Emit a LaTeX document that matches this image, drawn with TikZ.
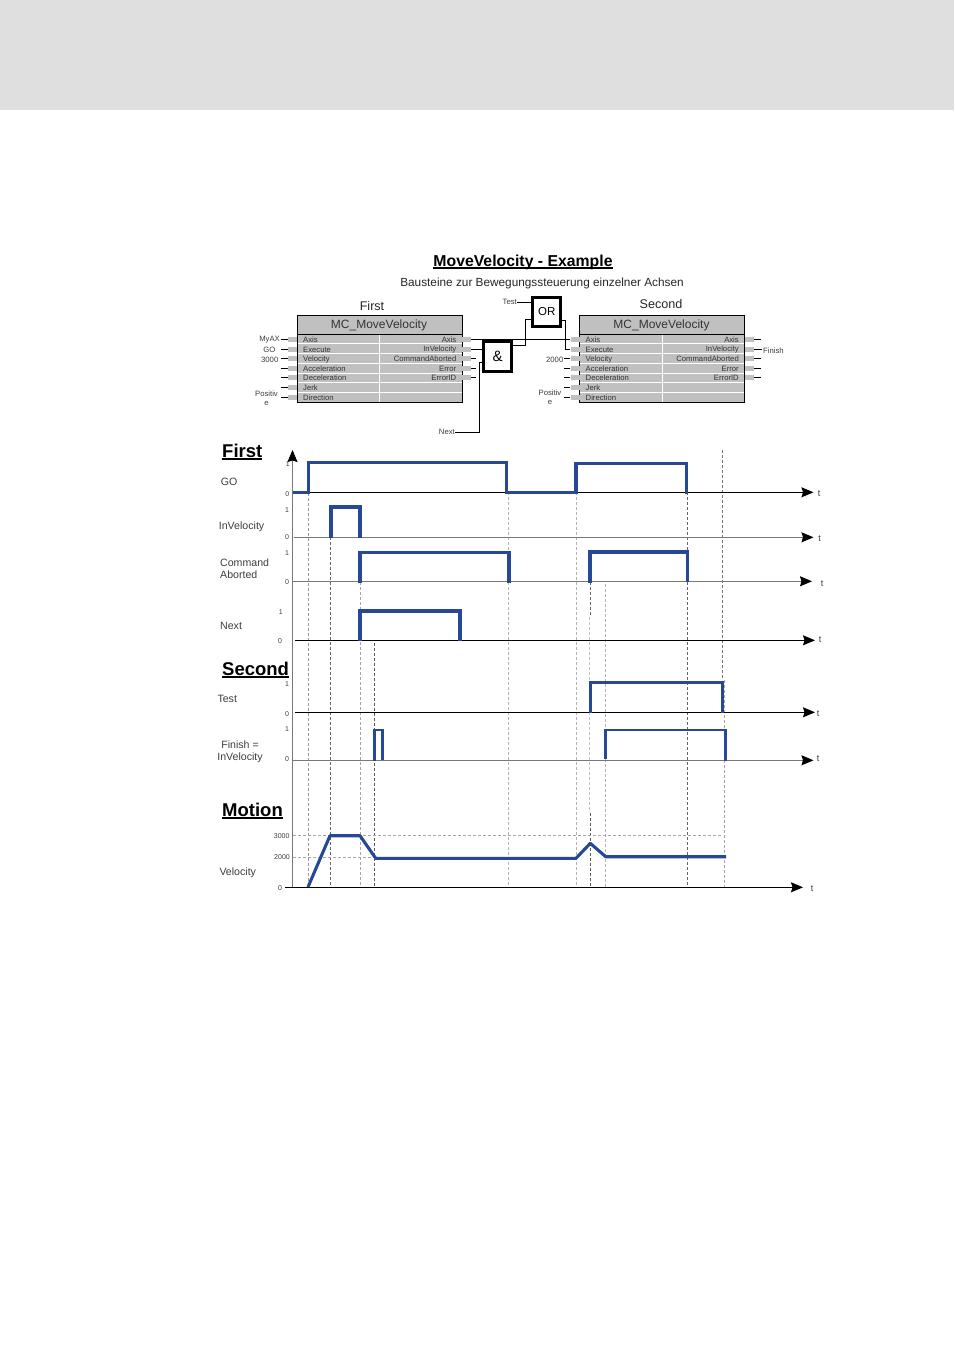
\documentclass[tikz,border=0pt]{standalone}
\usepackage{fontspec}
\setmainfont{Liberation Sans}
\usepackage{tikz}
\usetikzlibrary{arrows.meta, positioning, calc}
\definecolor{headgrey}{RGB}{223, 223, 223}
\definecolor{blockgrey}{RGB}{192, 192, 192}
\definecolor{sigblue}{RGB}{38, 72, 150}
\definecolor{txtgrey}{RGB}{60, 60, 60}
\definecolor{axgrey}{RGB}{120, 120, 120}
\newcommand{\heavyul}[2]{\setbox0\hbox{#2}\rlap{\rule[-2.6pt]{\wd0}{#1}}\box0}

\begin{document}
\begin{tikzpicture}[
  x=1pt, y=-1pt,
  title/.style={font=\fontsize{15.8}{18}\selectfont\bfseries},
  subtitle/.style={font=\fontsize{11.8}{13}\selectfont, text=black!85},
  heading/.style={font=\fontsize{18.5}{21}\selectfont\bfseries, inner sep=0},
  blockname/.style={font=\fontsize{12.6}{14}\selectfont, text=black!85},
  blocktitle/.style={font=\fontsize{12}{14}\selectfont, text=black!80},
  pinlabel/.style={font=\fontsize{7.7}{9}\selectfont, text=black!80, inner sep=0},
  extlabel/.style={font=\fontsize{7.7}{9}\selectfont, text=txtgrey, inner sep=0},
  pin/.style={fill=blockgrey, minimum width=9pt, minimum height=5pt, inner sep=0},
  wire/.style={black, line width=0.7pt},
  gatebox/.style={draw, fill=white, line width=3pt, inner sep=0},
  siglabel/.style={font=\fontsize{10.6}{13}\selectfont, text=txtgrey, inner sep=0, align=left},
  tick/.style={font=\fontsize{7}{8}\selectfont, text=txtgrey, inner sep=0},
  tlabel/.style={font=\fontsize{9}{10}\selectfont, text=txtgrey, inner sep=0},
  taxis/.style={line width=1pt, -{Stealth[length=12pt, width=10pt, inset=1.5pt, black]}},
  signal/.style={sigblue, line width=3.1pt, line join=miter},
  guide/.style={dashed, dash pattern=on 3pt off 2pt, line width=0.6pt},
]
  \useasboundingbox (0, 0) rectangle (954, 1350);
  \fill[headgrey] (0, 0) rectangle (954, 110);

  % Titles
  \node[title] (maintitle) at (523, 262) {\heavyul{1.2pt}{MoveVelocity - Example}};
  \node[subtitle] (subtext) at (542, 283) {Bausteine zur Bewegungssteuerung einzelner Achsen};
  \node[blockname] (firstname) at (372, 306) {First};
  \node[blockname] (secondname) at (661, 304) {Second};

  % Function blocks
  \foreach \pre/\bx in {f/297, s/579.5} {
    \fill[blockgrey] (\bx, 315) rectangle ++(165, 87);
    \foreach \sy in {343.5, 353.7, 363.5, 373.2, 382.7, 392.5}
      \draw[white, line width=0.9pt] (\bx, \sy) -- ++(165, 0);
    \draw[white, line width=0.9pt] (\bx+82.5, 334) -- ++(0, 68);
    \draw[line width=0.9pt] (\bx, 315) rectangle ++(165, 87);
    \draw[line width=0.5pt] (\bx, 334) -- ++(165, 0);
    \node[blocktitle] (\pre title) at (\bx+82, 325) {MC\_MoveVelocity};
    \foreach \i/\py/\ltxt/\rtxt in {1/339/Axis/Axis, 2/349/Execute/InVelocity, 3/358.7/Velocity/CommandAborted,
        4/368/Acceleration/Error, 5/377.5/Deceleration/ErrorID, 6/387.3/Jerk/, 7/397/Direction/} {
      \node[pin] (\pre l\i) at (\bx-4.5, \py) {};
      \node[pinlabel, anchor=west] (\pre lt\i) at (\bx+6, \py+0.5) {\ltxt};
      \ifnum\i<6
        \node[pin] (\pre r\i) at (\bx+169.5, \py) {};
        \node[pinlabel, anchor=east] (\pre rt\i) at (\bx+159.5, \py+0.5) {\rtxt};
      \fi
    }
  }

  % Gates
  \node[gatebox, font=\fontsize{15}{17}\selectfont, minimum width=28pt, minimum height=30pt] (andgate) at (497.7, 356) {\&};
  \node[gatebox, font=\fontsize{11.5}{14}\selectfont, minimum width=28pt, minimum height=29pt] (orgate) at (546.7, 312) {OR};

  % Outer labels, first block
  \node[extlabel, anchor=east] (myax) at (280, 339.5) {MyAX};
  \node[extlabel, anchor=east] (go) at (275.5, 349.5) {GO};
  \node[extlabel, anchor=east] (v3000) at (278.5, 360) {3000};
  \node[extlabel, anchor=center, align=center] (posf) at (266.5, 398) {Positiv\\e};
  \node[extlabel, anchor=east] (nextl) at (455, 432) {Next};
  \node[extlabel, anchor=east] (testl) at (517, 302) {Test};
  \node[extlabel, anchor=east] (v2000) at (563.5, 360) {2000};
  \node[extlabel, anchor=center, align=center] (poss) at (550, 397) {Positiv\\e};
  \node[extlabel, anchor=west] (finishl) at (763, 351) {Finish};

  % Wires
  \draw[wire] (fl1.west) -- ++(-6.5, 0);
  \draw[wire] (fl2.west) -- ++(-7, 0);
  \draw[wire] (fl3.west) -- ++(-7, 0);
  \draw[wire] (fl4.west) -- ++(-7, 0);
  \draw[wire] (fl5.west) -- ++(-7, 0);
  \draw[wire] (fl6.west) -- ++(-7, 0);
  \draw[wire] (fl7.west) -- ++(-7, 0);
  \draw[wire, line width=0.6pt] (fr1.east) -- (sl1.west);
  \draw[wire, line width=1pt] (fr2.east) -- (andgate.west |- fr2);
  \draw[wire] (fr3.east) -- ++(5, 0);
  \draw[wire] (fr4.east) -- ++(5, 0);
  \draw[wire] (fr5.east) -- ++(5, 0);
  \draw[wire] (nextl.east) -- (479.3, 432) |- (andgate.west |- 0, 362);
  \draw[wire] (andgate.east |- 0, 345) -- (525, 345) |- (orgate.west |- 0, 319);
  \draw[wire] (testl.east) -- (orgate.west |- testl);
  \draw[wire] (orgate.east |- 0, 320) -- (565, 320) |- (sl2.west);
  \draw[wire] (sl3.west) -- ++(-6, 0);
  \draw[wire] (sl4.west) -- ++(-6, 0);
  \draw[wire] (sl5.west) -- ++(-6, 0);
  \draw[wire] (sl6.west) -- ++(-6, 0);
  \draw[wire] (sl7.west) -- ++(-6, 0);
  \draw[wire] (sr1.east) -- ++(7, 0);
  \draw[wire] (sr2.east) -- ++(8, 0);
  \draw[wire] (sr3.east) -- ++(7, 0);
  \draw[wire] (sr4.east) -- ++(7, 0);
  \draw[wire] (sr5.east) -- ++(7, 0);

  % Section headings
  \node[heading, anchor=west] (firsthead) at (222, 452) {\heavyul{1.6pt}{First}};
  \node[heading, anchor=west] (secondhead) at (222, 670) {\heavyul{1.6pt}{Second}};
  \node[heading, anchor=west] (motionhead) at (222, 811) {\heavyul{1.6pt}{Motion}};

  % Guide lines
  \foreach \gx/\gtop/\gbot/\gcol in {308/493/887/black!40, 330.5/537/887/black!60, 360/582/887/black!35,
      374.5/643/887/black!65, 508/492/887/black!30, 576.5/492/887/black!30, 590/582/615/black!60,
      589.5/617/812/black!25, 590.3/813/887/black!65, 605.5/584/887/black!30, 687.5/492/887/black!60,
      722.5/450/680/black!55, 724/680/887/black!35}
    \draw[guide, \gcol] (\gx, \gtop) -- (\gx, \gbot);
  \draw[guide, black!35] (293, 835.7) -- (722, 835.7);
  \draw[guide, black!35] (293, 857) -- (375, 857);

  % Axes
  \coordinate (vtop) at (292.5, 450);
  \coordinate (vbot) at (292.5, 887);
  \draw[axgrey, line width=0.9pt, {Stealth[length=12pt, width=10pt, inset=1.5pt, black]}-] (vtop) -- (vbot);

  \node[tlabel] (t1) at (819, 493.5) {t};
  \node[tlabel] (t2) at (819.5, 538.5) {t};
  \node[tlabel] (t3) at (822, 583.5) {t};
  \node[tlabel] (t4) at (820, 639.5) {t};
  \node[tlabel] (t5) at (818, 713.5) {t};
  \node[tlabel] (t6) at (818, 758.5) {t};
  \node[tlabel] (t7) at (812, 888.5) {t};
  \coordinate (a1) at (293, 492.3);
  \coordinate (a2) at (294, 537.3);
  \coordinate (a3) at (293, 581.3);
  \coordinate (a4) at (295, 640.3);
  \coordinate (a5) at (295, 712.3);
  \coordinate (a6) at (293, 760.3);
  \coordinate (a7) at (285, 887.3);
  \draw[taxis] (a1) -- (813.5, 492.3);
  \draw[taxis, axgrey] (a2) -- (813.5, 537.3);
  \draw[taxis, axgrey] (a3) -- (812, 581.3);
  \draw[taxis] (a4) -- (815, 640.3);
  \draw[taxis] (a5) -- (815, 712.3);
  \draw[taxis, axgrey] (a6) -- (813.5, 760.3);
  \draw[taxis] (a7) -- (803, 887.3);

  % Signal names
  \node[siglabel, anchor=west] (sgo) at (220.7, 481.5) {GO};
  \node[siglabel, anchor=west] (sinv) at (218.7, 526.5) {InVelocity};
  \node[siglabel, anchor=north west] (scmd) at (220, 558.5) {Command\\[-1pt]Aborted};
  \node[siglabel, anchor=west] (snext) at (220, 625.5) {Next};
  \node[siglabel, anchor=west] (stest) at (217.3, 698.5) {Test};
  \node[siglabel, anchor=center, align=center] (sfin) at (240, 752) {Finish =\\[-1pt]InVelocity};
  \node[siglabel, anchor=west] (svel) at (219.3, 872.5) {Velocity};

  % Tick labels
  \foreach \tx/\ty/\ttxt in {287.7/464.3/1, 287.3/494.5/0, 287/509.8/1, 287/537.2/0, 287/553.2/1, 287/582.5/0,
      280.7/611.8/1, 280/640.8/0, 287/684.5/1, 287/713.8/0, 287/729.5/1, 287/758.8/0,
      281.7/836/3000, 282/857.3/2000, 280/888.3/0}
    \node[tick] at (\tx, \ty) {\ttxt};

  % Signals
  \draw[signal] (293, 492.7) -- (308.7, 492.7) -- (308.7, 462.9) -- (506.7, 462.9) -- (506.7, 492.7)
    -- (576, 492.7) -- (576, 463.4) -- (686.8, 463.4) -- (686.8, 493.5);
  \draw[signal] (331, 538) -- (331, 507) -- (360, 507) -- (360, 538);
  \draw[signal] (360, 583) -- (360, 552.3) -- (509, 552.3) -- (509, 583);
  \draw[signal] (590, 583) -- (590, 552) -- (687.3, 552) -- (687.3, 582);
  \draw[signal] (360, 641) -- (360, 611) -- (460, 611) -- (460, 641);
  \draw[signal] (590.3, 713) -- (590.3, 682.3) -- (722.7, 682.3) -- (722.7, 713);
  \draw[signal, line width=2.6pt] (374.3, 761) -- (374.3, 730) -- (382.3, 730) -- (382.3, 760);
  \draw[signal, line width=2.6pt] (605.7, 758.5) -- (605.7, 730) -- (725.3, 730) -- (725.3, 761);
  \draw[signal, line join=round] (308, 887) -- (330, 835.7) -- (360, 835.7) -- (375.7, 858.3) -- (576, 858.3)
    -- (590.3, 843.3) -- (605.7, 856.7) -- (726, 856.7);
\end{tikzpicture}
\end{document}
